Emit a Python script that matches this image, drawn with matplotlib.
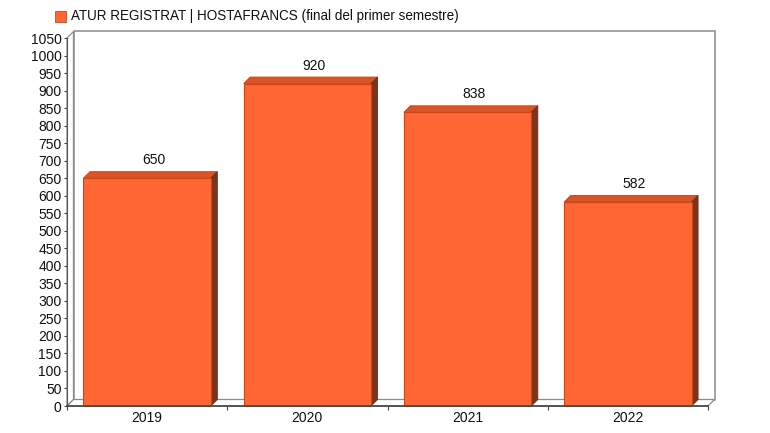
import matplotlib
matplotlib.use('Agg')
import matplotlib.pyplot as plt
from matplotlib.patches import Polygon, Rectangle

plt.rcParams['font.family'] = ['Liberation Sans', 'DejaVu Sans']

years = ['2019', '2020', '2021', '2022']
values = [650, 920, 838, 582]
yticks = list(range(0, 1051, 50))
legend_text = 'ATUR REGISTRAT | HOSTAFRANCS (final del primer semestre)'

W, H = 770, 433
x0, x1 = 67, 708      # eix frontal en pixels
y0, y1 = 406, 38
depth = 6.5

fig = plt.figure(figsize=(W / 100, H / 100), dpi=100)
ax = fig.add_axes([x0 / W, 1 - y0 / H, (x1 - x0) / W, (y0 - y1) / H])
ax.set_xlim(-0.5, 3.5)
ax.set_ylim(0, 1050)
ax.patch.set_visible(False)

# profunditat en unitats de dades
dx = depth / ((x1 - x0) / 4)
dy = depth / ((y0 - y1) / 1050)

# parets del fons
wall = '#8c8c8c'
ax.add_patch(Polygon([(-0.5 + dx, dy), (3.5 + dx, dy), (3.5 + dx, 1050 + dy), (-0.5 + dx, 1050 + dy)],
                     closed=True, fc='white', ec=wall, lw=1.1, clip_on=False, zorder=0))
ax.add_patch(Polygon([(-0.5, 0), (-0.5 + dx, dy), (-0.5 + dx, 1050 + dy), (-0.5, 1050)],
                     closed=True, fc='white', ec=wall, lw=0.9, clip_on=False, zorder=0))
ax.add_patch(Polygon([(-0.5, 0), (3.5, 0), (3.5 + dx, dy), (-0.5 + dx, dy)],
                     closed=True, fc='white', ec=wall, lw=0.9, clip_on=False, zorder=0))

# barres
bar_w = 0.795
ax.bar(range(4), values, width=bar_w, color='#ff6633', edgecolor='#c8481c', linewidth=0.8,
       zorder=3, clip_on=False)
for i, v in enumerate(values):
    l, r = i - bar_w / 2, i + bar_w / 2
    ax.add_patch(Polygon([(l, v), (r, v), (r + dx, v + dy), (l + dx, v + dy)], closed=True,
                         fc='#d6562b', ec='#b8441c', lw=0.6, clip_on=False, zorder=2))
    ax.add_patch(Polygon([(r, 0), (r + dx, dy), (r + dx, v + dy), (r, v)], closed=True,
                         fc='#7f3319', ec='#6e2b14', lw=0.6, clip_on=False, zorder=2))
    ax.text(i + dx, v + dy + 13, str(v), ha='center', va='bottom', fontsize=10, color='#111111')

# eixos
for s in ['top', 'right']:
    ax.spines[s].set_visible(False)
ax.spines['left'].set_color('#555555')
ax.spines['bottom'].set_color('#444444')
ax.spines['bottom'].set_linewidth(1.2)
ax.spines['bottom'].set_zorder(5)
ax.set_yticks(yticks)
ax.set_xticks(range(4))
ax.set_xticklabels(years)
ax.set_xticks([-0.5, 0.5, 1.5, 2.5, 3.5], minor=True)
ax.tick_params(axis='x', which='major', length=0, pad=3.5, labelsize=10, labelcolor='#111111')
ax.tick_params(axis='x', which='minor', length=3, width=0.8, color='#444444')
ax.tick_params(axis='y', length=2.5, width=0.8, color='#444444', pad=1.5, labelsize=10,
               labelcolor='#111111')

# llegenda
fig.add_artist(Rectangle((55 / W, 1 - 21.5 / H), 11 / W, 11 / H, transform=fig.transFigure,
                         fc='#ff6633', ec='#c8481c', lw=0.6))
fig.text(71 / W, 1 - 16 / H, legend_text, ha='left', va='center', fontsize=9.75, color='#111111')

fig.savefig('out.png', dpi=100)
